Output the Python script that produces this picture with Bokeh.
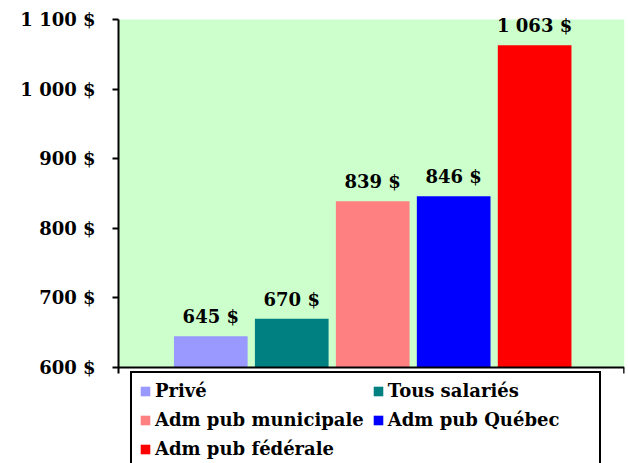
from bokeh.plotting import figure
from bokeh.models import (ColumnDataSource, Range1d, FixedTicker, LinearAxis,
                          Legend, LegendItem, LabelSet, BoxAnnotation, Span)
from bokeh.core.properties import value
from bokeh.embed import file_html
from bokeh.resources import INLINE

# ---- data ----
categories = ["Privé", "Tous salariés", "Adm pub municipale", "Adm pub Québec", "Adm pub fédérale"]
values = [645, 670, 839, 846, 1063]
value_labels = ["645 $", "670 $", "839 $", "846 $", "1 063 $"]
colors = ["#9999FF", "#008080", "#FF8080", "#0000FF", "#FF0000"]
y_ticks = [600, 700, 800, 900, 1000, 1100]
y_tick_labels = ["600 $", "700 $", "800 $", "900 $", "1 000 $", "1 100 $"]

FONT = "DejaVu Serif"
FS = "18px"
Y_MIN, Y_MAX = 600, 1100
X_LO, X_HI = -1.14, 5.11
PX_PER_UNIT = 348 / (Y_MAX - Y_MIN)
Y_BOTTOM = Y_MIN - 96 / PX_PER_UNIT   # room under the plot area for the legend
Y_TOP = Y_MAX + 19 / PX_PER_UNIT      # room above the plot area for the top value label

x_pos = list(range(len(categories)))
src = ColumnDataSource(dict(x=x_pos, top=values, color=colors, name=categories, lab=value_labels))

p = figure(width=628, height=463, output_backend="svg", toolbar_location=None,
           x_range=Range1d(X_LO, X_HI), y_range=Range1d(Y_BOTTOM, Y_TOP),
           min_border_left=118, min_border_top=0, min_border_right=4, min_border_bottom=0,
           x_axis_type=None, y_axis_type=None)
p.border_fill_color = "white"
p.background_fill_color = "white"
p.outline_line_color = None

# plot area background
p.add_layout(BoxAnnotation(bottom=Y_MIN, top=Y_MAX, fill_color="#CCFFCC", fill_alpha=1,
                           line_color=None, level="image"))

yax = LinearAxis(ticker=FixedTicker(ticks=y_ticks), bounds=(Y_MIN - 6 / PX_PER_UNIT, Y_MAX),
                 major_label_overrides={t: l for t, l in zip(y_ticks, y_tick_labels)})
yax.axis_line_color = "black"
yax.axis_line_width = 2
yax.major_tick_line_width = 2
yax.major_tick_out = 6
yax.major_tick_in = 0
yax.minor_tick_out = 0
yax.minor_tick_in = 0
yax.major_label_text_font = FONT
yax.major_label_text_font_style = "bold"
yax.major_label_text_font_size = FS
yax.major_label_text_color = "black"
yax.major_label_standoff = 17
p.add_layout(yax, "left")

p.ygrid.grid_line_color = "white"
p.ygrid.grid_line_width = 1.5
p.ygrid.ticker = FixedTicker(ticks=y_ticks[1:-1])
p.xgrid.visible = False

# category axis line along the bottom of the plot area
p.add_layout(Span(location=Y_MIN, dimension="width", line_color="black", line_width=2))
p.segment(x0=[X_HI - 0.004], y0=[Y_MIN - 6 / PX_PER_UNIT], x1=[X_HI - 0.004], y1=[Y_MIN],
          line_color="black", line_width=2)

r = p.vbar(x="x", top="top", bottom=Y_MIN, width=0.91, fill_color="color",
           line_color=None, source=src)

labels = LabelSet(x="x", y="top", text="lab", source=src, text_align="center",
                  text_baseline="bottom", y_offset=9, text_font=value(FONT),
                  text_font_style="bold", text_font_size=FS, text_color="black")
p.add_layout(labels)

# legend: rows (Privé, Tous salariés), (municipale, Québec), (fédérale)
order = [0, 2, 4, 1, 3]
items = [LegendItem(label=categories[i], renderers=[r], index=i) for i in order]
leg = Legend(items=items, ncols=2, location=(12, -5))
leg.label_text_font = FONT
leg.label_text_font_style = "bold"
leg.label_text_font_size = FS
leg.label_text_color = "black"
leg.label_height = 20
leg.label_width = 204
leg.glyph_width = 12
leg.glyph_height = 12
leg.spacing = 8
leg.padding = 7
leg.margin = 0
leg.label_standoff = 4
leg.border_line_color = "black"
leg.border_line_alpha = 1
leg.border_line_width = 2
leg.background_fill_color = "white"
leg.background_fill_alpha = 1
p.add_layout(leg, "center")

open("out.html", "w").write(file_html(p, INLINE))
